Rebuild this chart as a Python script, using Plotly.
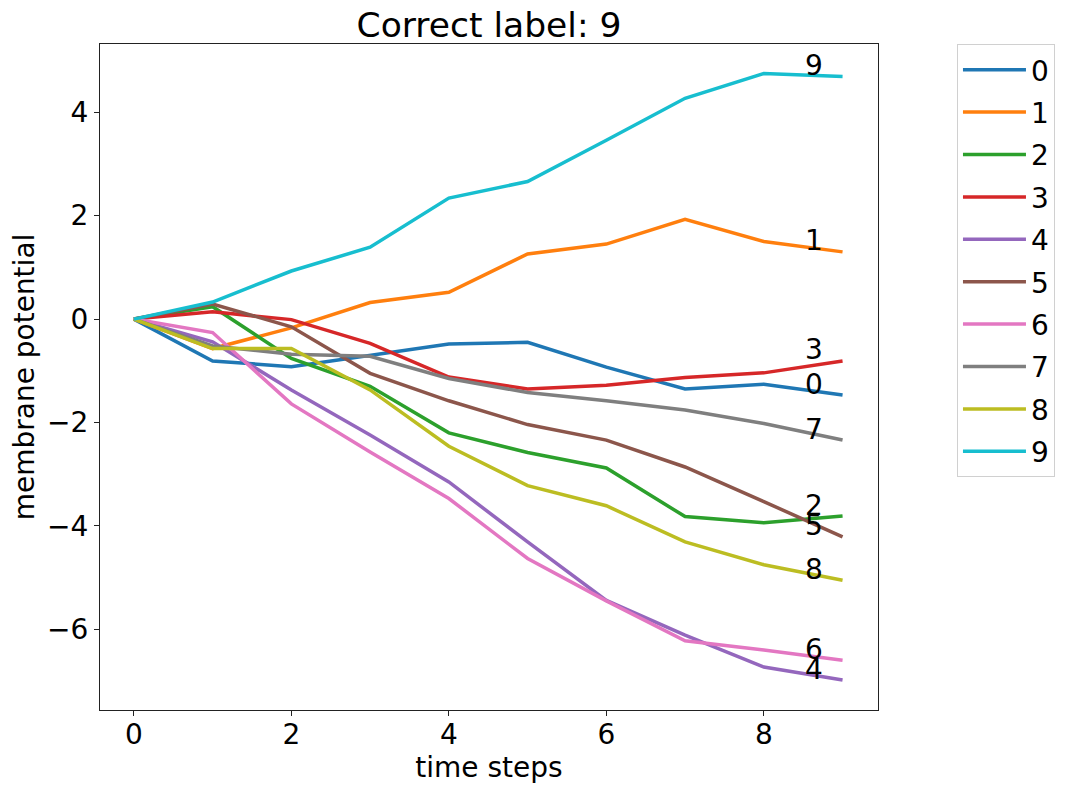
import plotly.graph_objects as go

time_steps = [0, 1, 2, 3, 4, 5, 6, 7, 8, 9]
labels = ["0", "1", "2", "3", "4", "5", "6", "7", "8", "9"]

s0 = [0, -0.81, -0.92, -0.70, -0.48, -0.45, -0.93, -1.35, -1.26, -1.47]
s1 = [0, -0.57, -0.17, 0.32, 0.52, 1.26, 1.45, 1.93, 1.50, 1.30]
s2 = [0, 0.24, -0.76, -1.30, -2.20, -2.58, -2.88, -3.82, -3.94, -3.81]
s3 = [0, 0.14, -0.01, -0.47, -1.12, -1.35, -1.28, -1.13, -1.04, -0.81]
s4 = [0, -0.44, -1.37, -2.24, -3.15, -4.31, -5.44, -6.11, -6.73, -6.98]
s5 = [0, 0.29, -0.15, -1.05, -1.58, -2.04, -2.34, -2.86, -3.53, -4.21]
s6 = [0, -0.26, -1.64, -2.57, -3.47, -4.63, -5.45, -6.22, -6.40, -6.60]
s7 = [0, -0.52, -0.68, -0.72, -1.15, -1.42, -1.58, -1.76, -2.02, -2.34]
s8 = [0, -0.57, -0.57, -1.37, -2.46, -3.22, -3.61, -4.31, -4.75, -5.05]
s9 = [0, 0.33, 0.93, 1.39, 2.34, 2.66, 3.46, 4.27, 4.75, 4.69]
series = [s0, s1, s2, s3, s4, s5, s6, s7, s8, s9]

colors = ["#1f77b4", "#ff7f0e", "#2ca02c", "#d62728", "#9467bd",
          "#8c564b", "#e377c2", "#7f7f7f", "#bcbd22", "#17becf"]

label_x = 8.5
title_text = "Correct label: 9"

fig = go.Figure()
for lab, vals, c in zip(labels, series, colors):
    fig.add_trace(go.Scatter(x=time_steps, y=vals, mode="lines", name=lab,
                             legendgroup=lab,
                             line=dict(color=c, width=3.5)))

for lab, vals in zip(labels, series):
    fig.add_annotation(x=label_x, y=vals[-1], text=lab, showarrow=False,
                       xanchor="left", yanchor="middle", yshift=11,
                       font=dict(size=28, color="black"))

axis_common = dict(showgrid=False, zeroline=False, showline=True, linecolor="#222222",
                   linewidth=1.2, mirror=True, ticks="outside", ticklen=5, tickwidth=1.2,
                   tickcolor="#222222", tickfont=dict(size=28, color="black"))

fig.update_layout(
    width=1091, height=787,
    margin=dict(l=92, r=221, t=36, b=85),
    paper_bgcolor="white", plot_bgcolor="white",
    font=dict(family="DejaVu Sans", size=28, color="black"),
    title=dict(text=title_text, x=0.5, xref="paper", xanchor="center",
               y=1.0, yref="paper", yanchor="bottom", pad=dict(b=7),
               font=dict(size=34.5)),
    xaxis=dict(range=[-0.43, 9.45], tickvals=[0, 2, 4, 6, 8],
               title=dict(text="time steps", font=dict(size=28), standoff=0),
               ticklabelstandoff=-6, automargin=False,
               **axis_common),
    yaxis=dict(range=[-7.56, 5.32], tickvals=[-6, -4, -2, 0, 2, 4],
               ticktext=["\u22126", "\u22124", "\u22122", "0", "2", "4"],
               title=dict(text="membrane potential", font=dict(size=28), standoff=12),
               automargin=False,
               **axis_common),
    legend=dict(x=1.1015, y=1.0, xanchor="left", yanchor="top",
                bordercolor="#d0d0d0", borderwidth=1, bgcolor="white",
                font=dict(size=28), tracegroupgap=3, itemwidth=63),
)

fig.write_html("out.html")
